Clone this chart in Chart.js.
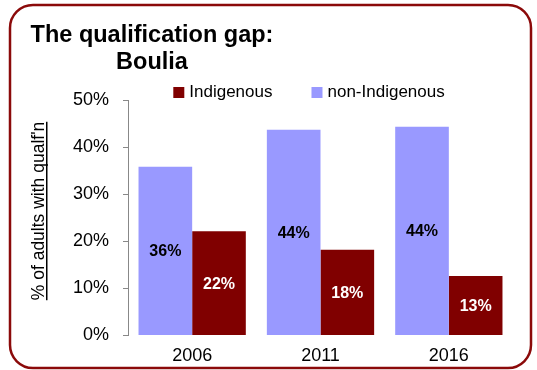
<!DOCTYPE html>
<html>
<head>
<meta charset="utf-8">
<script src="https://cdn.jsdelivr.net/npm/chart.js@4"></script>
<style>
  html, body { margin: 0; padding: 0; background: #fff; }
  #wrap { width: 537px; height: 370px; position: relative; }
</style>
</head>
<body>
<div id="wrap"><canvas id="gapChart"></canvas></div>
<script>
(function() {
const years = ['2006', '2011', '2016'];
const nonIndigenous = [35.8, 43.7, 44.3];
const indigenous = [22.1, 18.2, 12.6];
const yTicks = [0, 10, 20, 30, 40, 50];

const titleLines = ['The qualification gap:', 'Boulia'];
const yTitle = "% of adults with qualf'n";

const FONT = "'Liberation Sans', Arial, Helvetica, sans-serif";
const lavender = '#9999ff';
const maroon = '#800000';

Chart.defaults.font.family = FONT;
Chart.defaults.color = '#000';

// frame, title, legend, axis title and value labels
const decorations = {
    id: 'decorations',
    beforeDraw(chart) {
        const ctx = chart.ctx;
        ctx.save();
        ctx.fillStyle = '#fff';
        ctx.fillRect(0, 0, chart.width, chart.height);
        const x = 10, y = 5, w = 521, h = 363, r = 23;
        ctx.beginPath();
        ctx.moveTo(x + r, y);
        ctx.arcTo(x + w, y, x + w, y + h, r);
        ctx.arcTo(x + w, y + h, x, y + h, r);
        ctx.arcTo(x, y + h, x, y, r);
        ctx.arcTo(x, y, x + w, y, r);
        ctx.closePath();
        ctx.lineWidth = 2.5;
        ctx.strokeStyle = '#8b0a0a';
        ctx.stroke();
        ctx.restore();
    },
    afterDraw(chart) {
        const ctx = chart.ctx;
        ctx.save();

        // title
        ctx.fillStyle = '#000';
        ctx.font = 'bold 23.5px ' + FONT;
        ctx.textAlign = 'center';
        ctx.textBaseline = 'alphabetic';
        ctx.fillText(titleLines[0], 152, 42);
        ctx.fillText(titleLines[1], 152, 69);

        // legend (Indigenous first)
        ctx.font = '17px ' + FONT;
        ctx.textAlign = 'left';
        ctx.textBaseline = 'middle';
        const items = chart.data.datasets.slice().reverse();
        const box = 11, gap = 5, spacing = 39;
        let total = 0;
        items.forEach((ds, i) => {
            total += box + gap + ctx.measureText(ds.label).width;
            if (i < items.length - 1) total += spacing;
        });
        let lx = 309 - total / 2;
        items.forEach(ds => {
            ctx.fillStyle = ds.backgroundColor;
            ctx.fillRect(lx, 87, box, box);
            ctx.fillStyle = '#000';
            ctx.fillText(ds.label, lx + box + gap, 92.5);
            lx += box + gap + ctx.measureText(ds.label).width + spacing;
        });

        // y axis title, underlined
        ctx.save();
        ctx.translate(44, 211);
        ctx.rotate(-Math.PI / 2);
        ctx.font = '17.5px ' + FONT;
        ctx.textAlign = 'center';
        ctx.textBaseline = 'alphabetic';
        ctx.fillText(yTitle, 0, 0);
        const tw = ctx.measureText(yTitle).width;
        ctx.fillRect(-tw / 2, 2, tw, 1.5);
        ctx.restore();

        // value labels centred in each bar
        ctx.font = 'bold 16px ' + FONT;
        ctx.textAlign = 'center';
        ctx.textBaseline = 'middle';
        chart.data.datasets.forEach((ds, di) => {
            const meta = chart.getDatasetMeta(di);
            meta.data.forEach((bar, i) => {
                ctx.fillStyle = ds.labelColor;
                ctx.fillText(Math.round(ds.data[i]) + '%', bar.x, (bar.y + bar.base) / 2 + 1);
            });
        });
        ctx.restore();
    }
};

new Chart(document.getElementById('gapChart'), {
    type: 'bar',
    data: {
        labels: years,
        datasets: [{
            label: 'non-Indigenous',
            data: nonIndigenous,
            backgroundColor: lavender,
            labelColor: '#000',
            categoryPercentage: 0.836,
            barPercentage: 1.0
        }, {
            label: 'Indigenous',
            data: indigenous,
            backgroundColor: maroon,
            labelColor: '#fff',
            categoryPercentage: 0.836,
            barPercentage: 1.0
        }]
    },
    options: {
        responsive: true,
        maintainAspectRatio: false,
        animation: false,
        layout: { padding: { top: 100, left: 0, right: 24, bottom: -7 } },
        plugins: {
            legend: { display: false },
            title: { display: false },
            tooltip: { enabled: false }
        },
        scales: {
            x: {
                grid: { display: false, drawTicks: false },
                border: { display: false },
                ticks: { font: { size: 18 }, color: '#000', padding: 10 }
            },
            y: {
                min: 0,
                max: 50,
                afterFit(scale) { scale.width = 128; },
                afterBuildTicks(scale) { scale.ticks = yTicks.map(v => ({ value: v })); },
                grid: { drawOnChartArea: false, drawTicks: true, tickLength: 5, color: '#888' },
                border: { display: true, color: '#888', width: 1 },
                ticks: { font: { size: 18 }, color: '#000', padding: 14, callback: v => v + '%' }
            }
        }
    },
    plugins: [decorations]
});
})();
</script>
</body>
</html>
